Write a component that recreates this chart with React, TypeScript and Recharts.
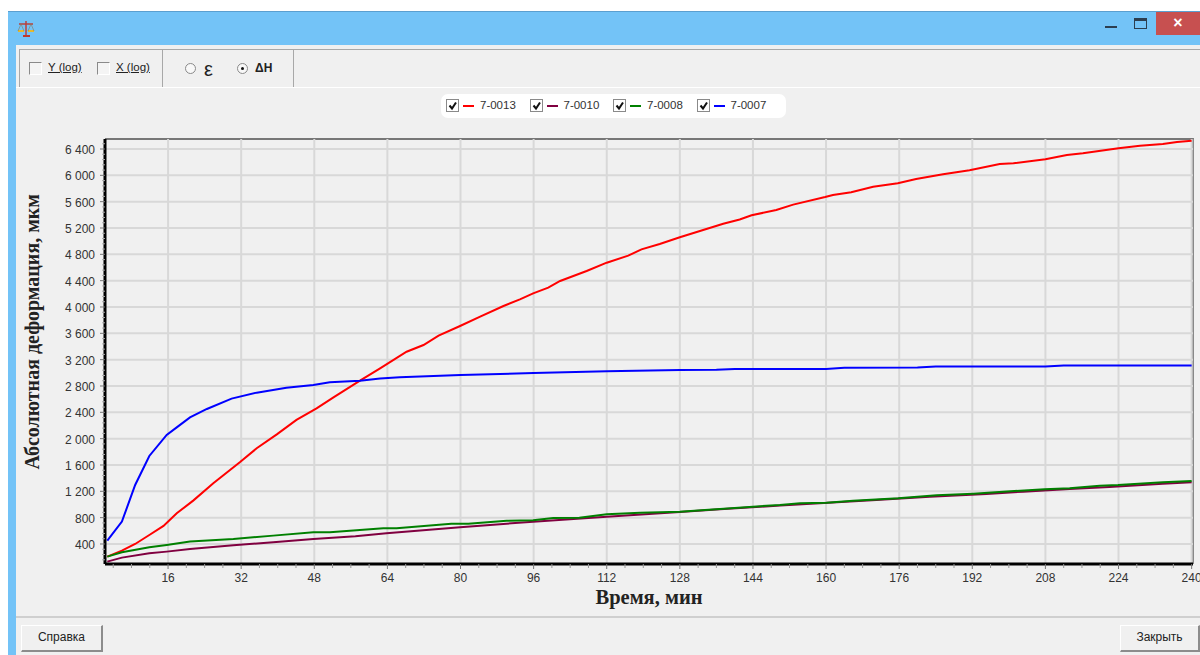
import React from 'react';
import { CartesianGrid, Legend, Line, LineChart, XAxis, YAxis } from 'recharts';

const redTimes = [2.7, 5.9, 8.8, 11.9, 15, 17.9, 21.5, 25.9, 31.7, 35.4, 39.8, 44.1, 48.5, 52.2, 58, 62.4, 68.2, 71.9, 75.2, 79.9, 84.3, 89.4, 93, 95.9, 99.2, 101.8, 107.6, 112, 116.7, 119.6, 123.6, 128, 133.1, 137.5, 141.1, 143.7, 149.1, 152.8, 159.8, 161.5, 165.5, 170.3, 175.7, 179.7, 185.6, 191.4, 198, 201, 208, 212.7, 216.2, 224, 228.7, 233.7, 236.8, 240];
const redValues = [208, 299, 400, 537, 674, 866, 1059, 1322, 1641, 1854, 2066, 2284, 2461, 2628, 2881, 3069, 3321, 3423, 3564, 3711, 3853, 4015, 4116, 4207, 4293, 4395, 4547, 4673, 4780, 4876, 4957, 5060, 5170, 5265, 5330, 5393, 5474, 5555, 5671, 5702, 5742, 5828, 5879, 5945, 6016, 6076, 6172, 6183, 6243, 6309, 6335, 6411, 6450, 6476, 6506, 6526];

const purpleTimes = [2.7, 5.9, 11.9, 15.7, 20.8, 30.3, 39, 47.8, 57, 63.8, 79.9, 95.9, 112, 128, 136.8, 150, 171, 182.7, 195.1, 203.1, 213.3, 222, 233.7, 240];
const purpleValues = [132, 193, 259, 284, 325, 380, 426, 476, 517, 562, 653, 739, 815, 886, 927, 985, 1068, 1119, 1160, 1195, 1235, 1266, 1316, 1337];

const greenTimes = [2.7, 5.9, 11.9, 15.7, 20.8, 30.3, 39, 47.8, 51.4, 63.1, 66, 78, 81.7, 90.1, 95.9, 100.3, 106, 112, 119.3, 128, 136.8, 144, 149.9, 154.3, 160.1, 165.9, 175.8, 184.2, 192.2, 198.7, 207.8, 213.3, 219.9, 223.9, 233.7, 240];
const greenValues = [208, 274, 350, 385, 436, 476, 527, 578, 578, 638, 638, 709, 709, 754, 759, 795, 800, 850, 876, 891, 932, 967, 992, 1018, 1028, 1058, 1094, 1139, 1165, 1195, 1230, 1246, 1286, 1296, 1337, 1357];

const blueTimes = [2.7, 5.9, 8.8, 11.9, 15.7, 17.9, 20.8, 24.5, 29.9, 35.4, 41.9, 47.8, 51.4, 58, 62.4, 66.7, 80, 96, 112, 128, 136, 140, 160, 164, 180, 184, 208, 212, 240];
const blueValues = [451, 740, 1297, 1737, 2056, 2172, 2324, 2451, 2608, 2699, 2775, 2815, 2856, 2881, 2915, 2932, 2967, 2997, 3023, 3043, 3045, 3058, 3060, 3078, 3080, 3095, 3097, 3112, 3112];

const xMajor = [16, 32, 48, 64, 80, 96, 112, 128, 144, 160, 176, 192, 208, 224, 240];
const yMajor = [400, 800, 1200, 1600, 2000, 2400, 2800, 3200, 3600, 4000, 4400, 4800, 5200, 5600, 6000, 6400];
const xTicks = Array.from({ length: 60 }, (_, i) => (i + 1) * 4);
const yTicks = Array.from({ length: 81 }, (_, i) => 160 + i * 80);

const zip = (times: number[], values: number[]) => times.map((t, i) => ({ t, v: values[i] }));

const sans = '"Liberation Sans", Arial, sans-serif';
const serif = '"Liberation Serif", "Times New Roman", serif';

const XTick = (props: any) => {
    const { x, y, payload } = props;
    const major = xMajor.includes(payload.value);
    return (
        <g>
            <line x1={x} x2={x} y1={y} y2={y + (major ? 5 : 4)} stroke={major ? '#777' : '#999'} strokeWidth={1} />
            {major && (
                <text x={x} y={y + 18} textAnchor="middle" fontFamily={sans} fontSize={12} fill="#333">
                    {payload.value}
                </text>
            )}
        </g>
    );
};

const YTick = (props: any) => {
    const { x, y, payload } = props;
    const major = yMajor.includes(payload.value);
    return (
        <g>
            <line x1={major ? x - 5 : x - 3} x2={x} y1={y} y2={y} stroke={major ? '#777' : '#aaa'} strokeWidth={1} />
            {major && (
                <text x={x - 10} y={y + 5} textAnchor="end" fontFamily={sans} fontSize={12} fill="#333">
                    {String(payload.value).replace(/(\d)(\d{3})$/, '$1 $2')}
                </text>
            )}
        </g>
    );
};

const CheckBox = ({ checked, size = 13 }: { checked?: boolean; size?: number }) => (
    <span
        style={{
            display: 'inline-block',
            boxSizing: 'border-box',
            width: size,
            height: size,
            borderTop: '1px solid #8a8a8a',
            borderLeft: '1px solid #8a8a8a',
            borderRight: checked ? '1px solid #8a8a8a' : '1px solid #fff',
            borderBottom: checked ? '1px solid #8a8a8a' : '1px solid #fff',
            background: checked ? '#fff' : '#f4f4f4',
            position: 'relative',
        }}
    >
        {checked && (
            <svg width={size - 2} height={size - 2} style={{ position: 'absolute', left: 0, top: 0 }}>
                <path d="M2.5 5.5 L5 8.5 L9 2.5" fill="none" stroke="#111" strokeWidth={2} />
            </svg>
        )}
    </span>
);

const LegendContent = ({ payload }: any) => (
    <div
        style={{
            width: 345,
            height: 24,
            background: '#fff',
            borderRadius: 7,
            position: 'relative',
            fontFamily: sans,
            fontSize: 11.5,
            color: '#333',
        }}
    >
        {(payload || []).map((item: any, i: number) => (
            <div key={item.value} style={{ position: 'absolute', left: 5 + i * 83.5, top: 5, height: 14 }}>
                <span style={{ position: 'absolute', left: 0, top: 0 }}>
                    <CheckBox checked />
                </span>
                <span style={{ position: 'absolute', left: 17, top: 6, width: 11, height: 2, background: item.color }} />
                <span style={{ position: 'absolute', left: 34, top: 0, whiteSpace: 'nowrap' }}>{item.value}</span>
            </div>
        ))}
    </div>
);

const Box = ({ style, children }: { style: React.CSSProperties; children?: React.ReactNode }) => (
    <div style={{ position: 'absolute', ...style }}>{children}</div>
);

const buttonStyle: React.CSSProperties = {
    boxSizing: 'border-box',
    top: 625,
    height: 27,
    background: '#f0f0f0',
    borderTop: '1px solid #fff',
    borderLeft: '1px solid #fff',
    borderRight: '2px solid #8c8c8c',
    borderBottom: '2px solid #8c8c8c',
    textAlign: 'center',
    lineHeight: '23px',
    fontFamily: sans,
    fontSize: 12,
    color: '#222',
};

const Chrome = () => (
    <>
        <Box style={{ left: 8, top: 11, width: 1192, height: 644, background: '#73c3f7', borderTop: '1px solid #5b9fd0', boxSizing: 'border-box' }} />
        <Box style={{ left: 16, top: 45, width: 1184, height: 610, background: '#f0f0f0' }} />
        <svg style={{ position: 'absolute', left: 17, top: 20 }} width={20} height={18}>
            <path d="M9 1 V15" stroke="#b8413c" strokeWidth={1.5} />
            <path d="M2 4 H16" stroke="#b8413c" strokeWidth={1.5} />
            <path d="M6 16 H13" stroke="#c0392b" strokeWidth={2} />
            <path d="M1 11 H7 M11 11 H17" stroke="#e5b92e" strokeWidth={2} />
            <path d="M4 4 L1 11 M4 4 L7 11 M14 4 L11 11 M14 4 L17 11" stroke="#8a7a5a" strokeWidth={0.6} fill="none" />
        </svg>
        <Box style={{ left: 1105, top: 26, width: 12, height: 2, background: '#2c3e50' }} />
        <Box style={{ left: 1134, top: 18, width: 13, height: 11, boxSizing: 'border-box', border: '1px solid #2c3e50', borderTop: '3px solid #2c3e50' }} />
        <Box style={{ left: 1156, top: 12, width: 44, height: 23, background: '#c75050', color: '#fff', textAlign: 'center', fontFamily: sans, fontWeight: 700, fontSize: 16, lineHeight: '22px' }}>
            ×
        </Box>
        <Box style={{ left: 19, top: 49, width: 1181, height: 1, background: '#a8a8a8' }} />
        <Box style={{ left: 16, top: 87, width: 1184, height: 1, background: '#fff' }} />
        {[19, 162, 293].map((x) => (
            <Box key={x} style={{ left: x, top: 49, width: 1, height: 38, background: '#a8a8a8' }} />
        ))}
        <Box style={{ left: 29, top: 61 }}><CheckBox /></Box>
        <Box style={{ left: 48, top: 61, fontFamily: sans, fontSize: 11.5, color: '#222', textDecoration: 'underline' }}>Y (log)</Box>
        <Box style={{ left: 97, top: 61 }}><CheckBox /></Box>
        <Box style={{ left: 116, top: 61, fontFamily: sans, fontSize: 11.5, color: '#222', textDecoration: 'underline' }}>X (log)</Box>
        <Box style={{ left: 185, top: 63, width: 11, height: 11, boxSizing: 'border-box', borderRadius: '50%', border: '1px solid #8a8a8a', background: '#f8f8f8' }} />
        <Box style={{ left: 204, top: 58, fontFamily: sans, fontSize: 20, color: '#222' }}>ε</Box>
        <Box style={{ left: 237, top: 63, width: 11, height: 11, boxSizing: 'border-box', borderRadius: '50%', border: '1px solid #8a8a8a', background: '#f8f8f8' }}>
            <Box style={{ left: 3, top: 3, width: 3, height: 3, borderRadius: '50%', background: '#111' }} />
        </Box>
        <Box style={{ left: 255, top: 61, fontFamily: sans, fontWeight: 700, fontSize: 12, color: '#222' }}>ΔН</Box>
        <Box style={{ left: 105, top: 138, width: 1089, height: 426, boxSizing: 'border-box', borderTop: '2px solid #777', borderRight: '2px solid #888' }} />
        <Box style={{ left: 16, top: 616, width: 1184, height: 2, background: '#cfcfcf' }} />
        <Box style={{ ...buttonStyle, left: 21, width: 82 }}>Справка</Box>
        <Box style={{ ...buttonStyle, left: 1120, width: 80 }}>Закрыть</Box>
    </>
);

export default function App() {
    return (
        <div style={{ position: 'absolute', left: 0, top: 0, width: 1200, height: 655, overflow: 'hidden', background: '#fff' }}>
            <Chrome />
            <div style={{ position: 'absolute', left: 0, top: 0 }}>
                <LineChart width={1200} height={655} margin={{ top: 139, right: 7, bottom: 31, left: 20 }}>
                    <CartesianGrid
                        stroke="#d8d8d8"
                        strokeWidth={2}
                        horizontalValues={yMajor}
                        verticalValues={xMajor}
                    />
                    <XAxis
                        type="number"
                        dataKey="t"
                        domain={[2.2, 240.3]}
                        ticks={xTicks.filter((t) => t <= 240)}
                        interval={0}
                        height={60}
                        tick={<XTick />}
                        tickSize={0}
                        tickMargin={0}
                        tickLine={false}
                        axisLine={{ stroke: '#000', strokeWidth: 3 }}
                        allowDataOverflow
                        label={{
                            value: 'Время, мин',
                            position: 'insideTop',
                            dy: 20,
                            style: { fontFamily: serif, fontWeight: 700, fontSize: 20.5, fill: '#222' },
                        }}
                    />
                    <YAxis
                        type="number"
                        dataKey="v"
                        domain={[96, 6552]}
                        ticks={yTicks.filter((v) => v < 6552)}
                        interval={0}
                        width={85}
                        tick={<YTick />}
                        tickSize={0}
                        tickMargin={0}
                        tickLine={false}
                        axisLine={{ stroke: '#000', strokeWidth: 3 }}
                        allowDataOverflow
                        label={{
                            value: 'Абсолютная деформация, мкм',
                            angle: -90,
                            position: 'insideLeft',
                            dx: 7,
                            dy: 118,
                            style: { fontFamily: serif, fontWeight: 700, fontSize: 20, fill: '#222' },
                        }}
                    />
                    <Legend
                        layout="vertical"
                        align="center"
                        verticalAlign="middle"
                        itemSorter={null}
                        content={<LegendContent />}
                        wrapperStyle={{ position: 'absolute', left: 441, top: 94, width: 345, height: 24 }}
                    />
                    <Line name="7-0013" data={zip(redTimes, redValues)} dataKey="v" stroke="#ff0000" strokeWidth={2} dot={false} isAnimationActive={false} />
                    <Line name="7-0010" data={zip(purpleTimes, purpleValues)} dataKey="v" stroke="#800040" strokeWidth={2} dot={false} isAnimationActive={false} />
                    <Line name="7-0008" data={zip(greenTimes, greenValues)} dataKey="v" stroke="#008000" strokeWidth={2} dot={false} isAnimationActive={false} />
                    <Line name="7-0007" data={zip(blueTimes, blueValues)} dataKey="v" stroke="#0000ff" strokeWidth={2} dot={false} isAnimationActive={false} />
                </LineChart>
            </div>
        </div>
    );
}
